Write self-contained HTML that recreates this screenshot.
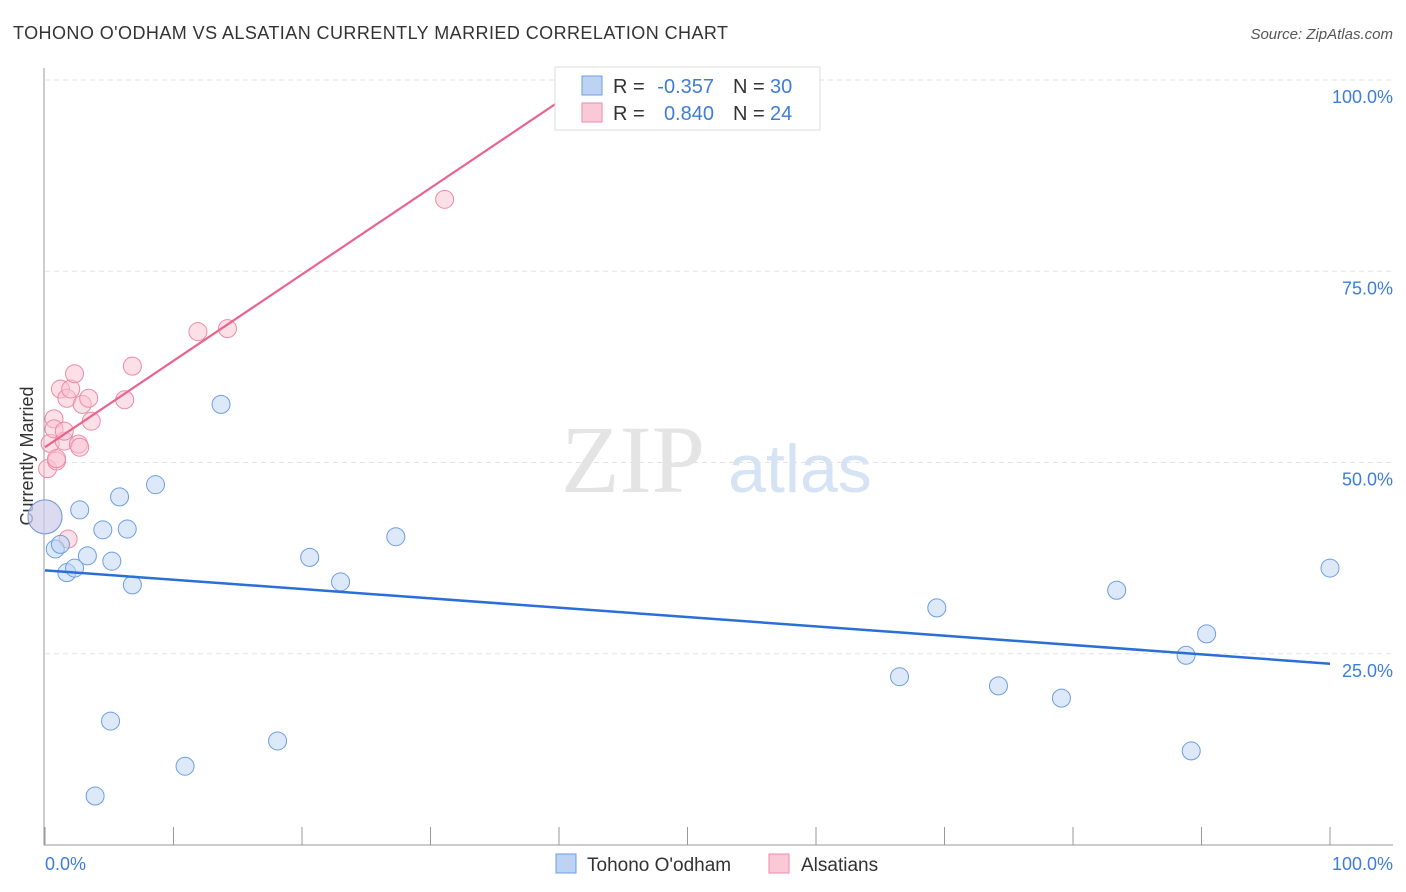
<!DOCTYPE html>
<html><head><meta charset="utf-8"><style>
body{margin:0;background:#fff;font-family:"Liberation Sans",sans-serif;}
svg{display:block}
</style></head><body>
<svg id="chart" width="1406" height="892">
<text x="13" y="39" font-size="18" fill="#333" textLength="715">TOHONO O'ODHAM VS ALSATIAN CURRENTLY MARRIED CORRELATION CHART</text>
<text x="1393" y="39" font-size="15" fill="#555" font-style="italic" text-anchor="end">Source: ZipAtlas.com</text>
<text x="33" y="456" font-size="18" fill="#333" text-anchor="middle" transform="rotate(-90 33 456)">Currently Married</text>
<text x="633" y="492" font-size="96" fill="#e4e4e4" font-family="Liberation Serif,serif" text-anchor="middle">ZIP</text>
<text x="800" y="492" font-size="68" fill="#d5e3f5" text-anchor="middle">atlas</text>
<g id="grid"></g><g id="marks"></g>
<g>
<rect x="555" y="67" width="265" height="63" fill="#fff" stroke="#ddd"/>
<rect x="582" y="76" width="20" height="19" fill="#bcd3f3" stroke="#6c9ee0"/>
<rect x="582" y="103" width="20" height="19" fill="#f9c9d7" stroke="#ec8aa8"/>
<text x="613" y="93" font-size="20" fill="#333">R =</text>
<text x="714" y="93" font-size="20" fill="#3d7dd8" text-anchor="end">-0.357</text>
<text x="733" y="93" font-size="20" fill="#333">N =</text>
<text x="770" y="93" font-size="20" fill="#3d7dd8">30</text>
<text x="613" y="120" font-size="20" fill="#333">R =</text>
<text x="714" y="120" font-size="20" fill="#3d7dd8" text-anchor="end">0.840</text>
<text x="733" y="120" font-size="20" fill="#333">N =</text>
<text x="770" y="120" font-size="20" fill="#3d7dd8">24</text>
</g>
<g>
<rect x="556" y="854" width="20" height="19" fill="#bcd3f3" stroke="#6c9ee0"/>
<text x="587" y="871" font-size="19" fill="#333">Tohono O'odham</text>
<rect x="769" y="854" width="20" height="19" fill="#f9c9d7" stroke="#ec8aa8"/>
<text x="801" y="871" font-size="19" fill="#333">Alsatians</text>
</g>
</svg>
<script>
const yTicks=[25,50,75,100];
const yTickLabels=["25.0%","50.0%","75.0%","100.0%"];
const xTickLabels=["0.0%","100.0%"];
const blueX=[0,0.8,1.2,1.7,2.3,2.7,3.3,3.9,4.5,5.1,5.2,5.8,6.4,6.8,8.6,10.9,13.7,18.1,20.6,23.0,27.3,66.5,69.4,74.2,79.1,83.4,88.8,89.2,90.4,100];
const blueY=[42.9,38.7,39.3,35.6,36.2,43.8,37.8,6.4,41.2,16.2,37.1,45.5,41.3,34.0,47.1,10.3,57.6,13.6,37.6,34.4,40.3,22.0,31.0,20.8,19.2,33.3,24.8,12.3,27.6,36.2];
const pinkX=[0,0.2,0.4,0.7,0.7,0.9,1.2,1.5,1.7,2.0,2.3,1.8,2.6,2.7,2.9,3.4,3.6,6.2,6.8,11.9,14.2,31.1,0.9,1.5];
const pinkY=[42.9,49.2,52.5,55.7,54.4,50.2,59.6,52.8,58.4,59.6,61.6,40.0,52.4,52.0,57.6,58.4,55.4,58.2,62.6,67.1,67.5,84.4,50.5,54.1];
const blueTrend=[[0,35.9],[100,23.7]];
const pinkTrend=[[0,52.0],[42.5,100]];
const NS="http://www.w3.org/2000/svg";
const X=v=>45+v*12.85, Y=v=>845-v*7.65;
function mk(p,t,a){const e=document.createElementNS(NS,t);for(const k in a)e.setAttribute(k,a[k]);p.appendChild(e);return e;}
const g=document.getElementById('grid'),m=document.getElementById('marks');
yTicks.forEach((t,i)=>{
 const l=mk(g,'line',{x1:45,x2:1393,y1:Y(t),y2:Y(t),stroke:'#e3e3e3','stroke-dasharray':'5,4'});
 
 
 const tx=mk(g,'text',{x:1393,y:Y(t)+23,'font-size':18,fill:'#3d7dd8','text-anchor':'end'});tx.textContent=yTickLabels[i];
 
 
});
mk(g,'line',{x1:44,x2:44,y1:68,y2:845,stroke:'#999'});
mk(g,'line',{x1:44,x2:1393,y1:845,y2:845,stroke:'#999'});
for(let i=0;i<=10;i++){const t=mk(g,'line',{x1:X(i*10),x2:X(i*10),y1:827,y2:845,stroke:'#999'});
 
 }
[[0,'start',45],[1,'end',1393]].forEach(([i,a,x])=>{const t=mk(g,'text',{x:x,y:870,'font-size':18,fill:'#3d7dd8','text-anchor':a});t.textContent=xTickLabels[i];
 
 });
function pts(xs,ys,fill,stroke,name){xs.forEach((x,i)=>{const big=(x===0&&Math.abs(ys[i]-42.9)<0.01);
 const c=mk(m,'circle',{cx:X(x),cy:Y(ys[i]),r:big?17:9,fill:fill,'fill-opacity':0.5,stroke:stroke,'stroke-width':1});
 
 });}
pts(pinkX,pinkY,'#f9c2d2','#ec8aa8','alsatians-point');
pts(blueX,blueY,'#bcd3f3','#6c9ee0','tohono-point');
const bl=mk(m,'line',{x1:X(blueTrend[0][0]),y1:Y(blueTrend[0][1]),x2:X(blueTrend[1][0]),y2:Y(blueTrend[1][1]),stroke:'#2a6fd8','stroke-width':2.5});


const pl=mk(m,'line',{x1:X(pinkTrend[0][0]),y1:Y(pinkTrend[0][1]),x2:X(pinkTrend[1][0]),y2:Y(pinkTrend[1][1]),stroke:'#e8648e','stroke-width':2.2});


</script>
</body></html>
